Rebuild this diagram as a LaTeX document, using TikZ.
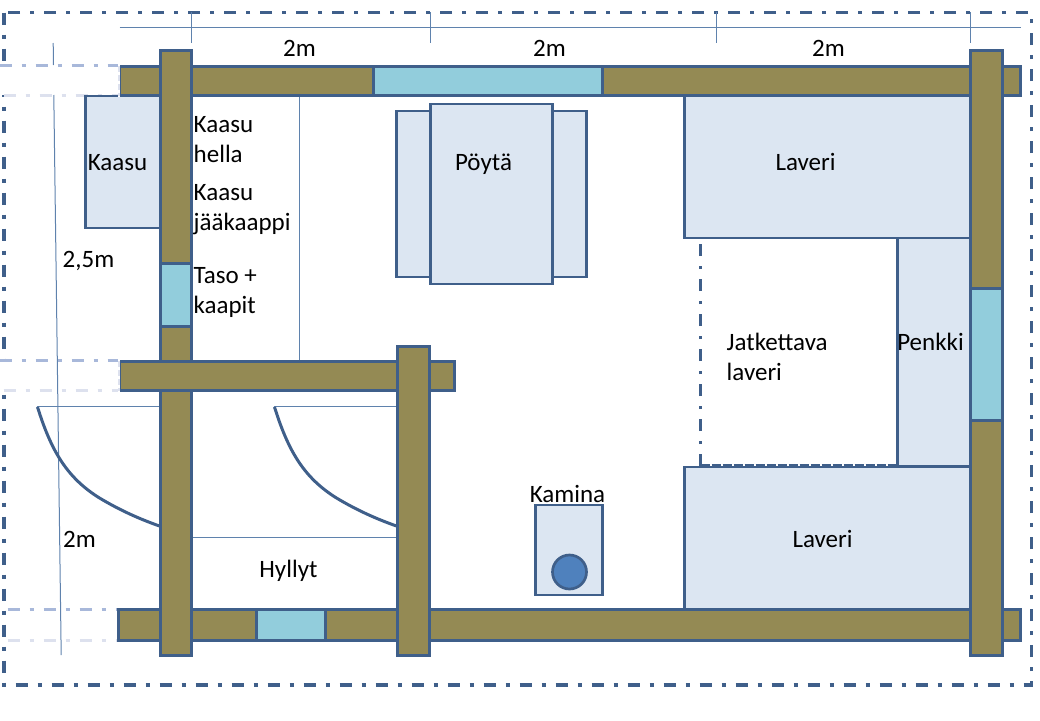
\documentclass[tikz,border=0pt]{standalone}
\usepackage{fontspec}
\setmainfont{Carlito}
\definecolor{wallfill}{HTML}{948A54}
\definecolor{edgeblue}{HTML}{3F5F8A}
\definecolor{thinblue}{HTML}{5F82AD}
\definecolor{benchfill}{HTML}{DCE6F2}
\definecolor{glassfill}{HTML}{92CDDC}
\definecolor{stovefill}{HTML}{4F81BD}
\definecolor{ghostblue}{HTML}{A8B8DA}
\definecolor{ghostpale}{HTML}{DDE1EE}
\begin{document}
\begin{tikzpicture}[x=1pt,y=-1pt,
wall/.style = {draw=edgeblue, line width=3pt, fill=wallfill},
glass/.style = {draw=edgeblue, line width=3pt, fill=glassfill},
bench/.style = {draw=edgeblue, line width=2.7pt, fill=benchfill},
thin/.style = {draw=thinblue, line width=1pt},
frame/.style = {draw=edgeblue, line width=3.2pt, dash pattern=on 12pt off 10pt on 4pt off 10pt},
ghostA/.style = {draw=ghostblue, line width=3pt, dash pattern=on 12pt off 10pt on 4pt off 10pt},
ghostB/.style = {draw=ghostpale, line width=3pt, dash pattern=on 12pt off 10pt on 4pt off 10pt},
txt/.style = {font=\fontsize{25}{26}\selectfont, inner sep=0pt, text=black, text height=16pt, text depth=0pt},
ltxt/.style = {txt, anchor=west},
]
\useasboundingbox (0.5,0) rectangle (1040.5,720);
% outer frame
\draw[frame] (4.5,12.5) rectangle (1032,685);
% ghost walls outside the frame
\fill[white] (0,65) rectangle (120,95);
\fill[white] (0,360) rectangle (120,390);
\draw[ghostA] (0,65.5) -- (120,65.5);
\draw[ghostB] (4,95.5) -- (120,95.5);
\draw[ghostA] (0,360.5) -- (120,360.5);
\draw[ghostB] (4,390.5) -- (120,390.5);
\draw[ghostA] (8,609.5) -- (119,609.5);
\draw[ghostB] (8,640) -- (119,640);
% measures
\draw[thin] (120,27.5) -- (1021,27.5);
\foreach \x in {192,431,717,971}{\draw[thin] (\x,12) -- (\x,43);}
\draw[thin] (53.7,43) -- (54,65);
\draw[thin] (54.3,95) -- (61.7,655);
% kitchen and shelf lines
\draw[thin] (299.5,96) -- (299.5,360);
\draw[thin] (192,537.5) -- (398,537.5);
% doors
\foreach \dx in {0,237}{
  \draw[thin] (37+\dx,406.5) -- (161+\dx,406.5);
  \draw[edgeblue, line width=3pt] (38+\dx,407) .. controls (52+\dx,452) and (68+\dx,478) .. (100+\dx,498)
     .. controls (120+\dx,510) and (140+\dx,519) .. (160+\dx,526);
}
% furniture
\draw[bench] (86,96) rectangle (161,228);
\draw[bench] (397,111) rectangle (431,277);
\draw[bench] (553,111) rectangle (587,277);
\draw[bench] (431,104) rectangle (553,284);
\draw[bench] (685,96) rectangle (971,238);
\draw[bench] (898,238) rectangle (971,466);
\draw[edgeblue, line width=2.7pt, dash pattern=on 12pt off 10pt on 3pt off 10pt] (701,466) -- (701,240);
\draw[edgeblue, line width=2.7pt, dash pattern=on 9pt off 2pt] (701,465.5) -- (898,465.5);
\draw[bench] (685,467) rectangle (971,609);
\draw[bench] (536,505) rectangle (603,595);
\draw[edgeblue, line width=2.7pt, fill=stovefill] (570,572) circle (17);
% walls
\draw[wall] (120,66) rectangle (1021,95);
\draw[wall] (119,609) rectangle (1021,640);
\draw[wall] (161,50) rectangle (192,655);
\draw[wall] (120,361) rectangle (455,390);
\draw[wall] (398,346) rectangle (430,655);
\draw[wall] (971,50) rectangle (1003,655);
% windows
\draw[glass] (374,66) rectangle (603,95);
\draw[glass] (161,263) rectangle (192,326);
\draw[glass] (971,288) rectangle (1003,420);
\draw[glass] (257,609) rectangle (326,640);
% ghost edge over the wall ends
\foreach \y in {66,361}{
  \draw[white, line width=2pt] (119.5,\y-2) -- (119.5,\y+31);
  \draw[ghostpale, line width=2pt, dash pattern=on 6pt off 3pt] (119.5,\y) -- (119.5,\y+30);
}
% labels
\node[txt] (top1) at (300,48) {2m};
\node[txt] (top2) at (550,48) {2m};
\node[txt] (top3) at (829,48) {2m};
\node[txt] (side1) at (89,259) {2,5m};
\node[txt] (side2) at (80,539) {2m};
\node[txt] (gas) at (118,162) {Kaasu};
\node[ltxt] (gasa) at (194,124) {Kaasu};
\node[ltxt] (gasb) at (194,154) {hella};
\node[ltxt] (gasc) at (194,192) {Kaasu};
\node[ltxt] (gasd) at (194,222) {jääkaappi};
\node[ltxt] (tasoa) at (194,275) {Taso +};
\node[ltxt] (tasob) at (194,305) {kaapit};
\node[txt] (table) at (484,162) {Pöytä};
\node[txt] (bunka) at (806,162) {Laveri};
\node[txt] (bunkb) at (823,539) {Laveri};
\node[txt] (seat) at (931,342) {Penkki};
\node[ltxt] (exta) at (727,342) {Jatkettava};
\node[ltxt] (extb) at (727,372) {laveri};
\node[txt] (stove) at (568,494) {Kamina};
\node[txt] (shelf) at (289,569) {Hyllyt};
\end{tikzpicture}
\end{document}
